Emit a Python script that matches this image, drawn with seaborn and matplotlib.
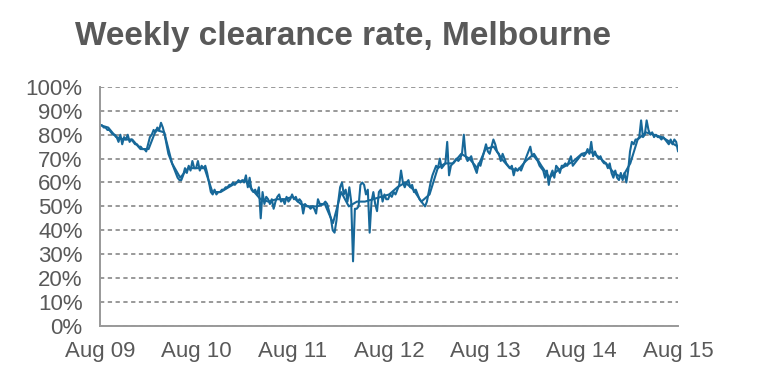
import pandas as pd
import matplotlib.pyplot as plt
import matplotlib.dates as mdates
import seaborn as sns
from matplotlib.ticker import FuncFormatter

# Weekly auction clearance rate (%), one row per year from Aug 09
weekly_rate = [
    84, 84, 83, 83, 82, 82, 81, 80, 80, 79, 77, 80, 76, 79, 78, 80, 77, 78,
    77, 76, 76, 75, 75, 74, 74, 73, 76, 79, 80, 82, 81, 83, 82, 85, 83, 80,
    76, 72, 70, 68, 66, 64, 62, 61, 61, 63, 66, 64, 67, 65, 69, 66,
    # Aug 10
    66, 69, 65, 67, 66, 67, 64, 60, 56, 55, 57, 55, 56, 56, 57, 57, 58, 58,
    59, 59, 60, 59, 60, 61, 60, 61, 60, 63, 58, 62, 57, 56, 57, 55, 58, 45,
    56, 51, 54, 53, 51, 53, 49, 52, 54, 55, 52, 53, 51, 54, 52, 53,
    # Aug 11
    55, 53, 54, 52, 53, 52, 47, 51, 50, 50, 49, 50, 49, 47, 53, 51, 51, 51,
    52, 51, 48, 45, 40, 39, 44, 52, 58, 60, 55, 57, 52, 58, 52, 27, 49, 49,
    50, 59, 60, 59, 55, 57, 39, 52, 56, 51, 48, 56, 57, 52, 55, 53,
    # Aug 12
    53, 55, 54, 56, 55, 57, 59, 65, 60, 58, 60, 61, 58, 59, 56, 57, 55, 53,
    52, 51, 50, 52, 56, 60, 63, 65, 67, 66, 70, 66, 67, 68, 77, 63, 67, 68,
    69, 70, 69, 70, 72, 80, 71, 69, 70, 71, 68, 66, 64, 68, 67, 70,
    # Aug 13
    73, 76, 73, 72, 75, 78, 76, 73, 72, 69, 72, 70, 68, 67, 66, 67, 63, 66,
    65, 66, 65, 67, 69, 71, 73, 75, 71, 71, 70, 69, 67, 66, 65, 62, 65, 59,
    63, 65, 62, 67, 66, 64, 67, 67, 68, 67, 69, 71, 67, 68, 69, 70,
    # Aug 14
    71, 72, 71, 72, 74, 72, 77, 71, 73, 71, 70, 71, 69, 68, 68, 66, 68, 64,
    62, 65, 62, 61, 64, 61, 64, 60, 65, 73, 77, 76, 78, 78, 79, 86, 79, 80,
    86, 82, 80, 81, 79, 80, 79, 79, 78, 79, 78, 77, 76, 78, 76, 78, 77, 73,
]

# smoothed (average) line, monthly from Aug 09 to Aug 15
smoothed_rate = [
    84, 83, 79, 78, 78, 74, 74, 82, 81, 68, 62, 66,
    66, 66, 56, 56, 58, 60, 61, 57, 53, 52, 53, 53,
    54, 51, 50, 50, 51, 43, 56, 50, 52, 52, 53, 54,
    55, 58, 60, 57, 52, 55, 66, 68, 68, 72, 70, 66,
    74, 75, 70, 66, 65, 69, 72, 67, 62, 65, 67, 69,
    72, 73, 71, 68, 64, 62, 68, 78, 81, 80, 79, 77,
    75,
]

y_ticks = list(range(0, 101, 10))
x_tick_years = [2009, 2010, 2011, 2012, 2013, 2014, 2015]

sns.set_style("white")
plt.rcParams['font.family'] = ['Liberation Sans', 'DejaVu Sans']

blue = '#176899'
grey_text = '#595959'
grey_line = '#999999'

weeks = pd.date_range("2009-08-01", periods=len(weekly_rate), freq="7D")
months = pd.date_range("2009-08-01", periods=len(smoothed_rate), freq="MS")

fig = plt.figure(figsize=(7.58, 3.78), dpi=100)
ax = fig.add_axes([0.132, 0.138, 0.7625, 0.632])

sns.lineplot(x=weeks, y=weekly_rate, ax=ax, color=blue, lw=1.5)
sns.lineplot(x=months, y=smoothed_rate, ax=ax, color=blue, lw=1.5)

ax.set_ylim(0, 100)
ax.set_xlim(pd.Timestamp("2009-08-01"), weeks[-1])
ax.set_yticks(y_ticks)
ax.yaxis.set_major_formatter(FuncFormatter(lambda v, p: f"{v:.0f}%"))
ax.set_xticks([pd.Timestamp(f"{y}-08-01") for y in x_tick_years])
ax.xaxis.set_major_formatter(mdates.DateFormatter('%b %y'))
ax.set_xlabel('')
ax.set_ylabel('')

ax.yaxis.grid(True, linestyle=(0, (2.2, 1.8)), color=grey_line, lw=1.4)
ax.set_axisbelow(True)
for side in ['top', 'right']:
    ax.spines[side].set_visible(False)
for side in ['left', 'bottom']:
    ax.spines[side].set_color(grey_line)
    ax.spines[side].set_linewidth(1.4)

ax.tick_params(axis='y', direction='inout', length=9, width=1.2, color=grey_line,
               labelsize=16, labelcolor=grey_text, pad=8)
ax.tick_params(axis='x', direction='out', length=6, width=1.2, color=grey_line,
               labelsize=16, labelcolor=grey_text, pad=5)

fig.text(0.099, 0.881, 'Weekly clearance rate, Melbourne', fontsize=24,
         fontweight='bold', color=grey_text, va='baseline', ha='left')

fig.savefig('out.png', dpi=100)
